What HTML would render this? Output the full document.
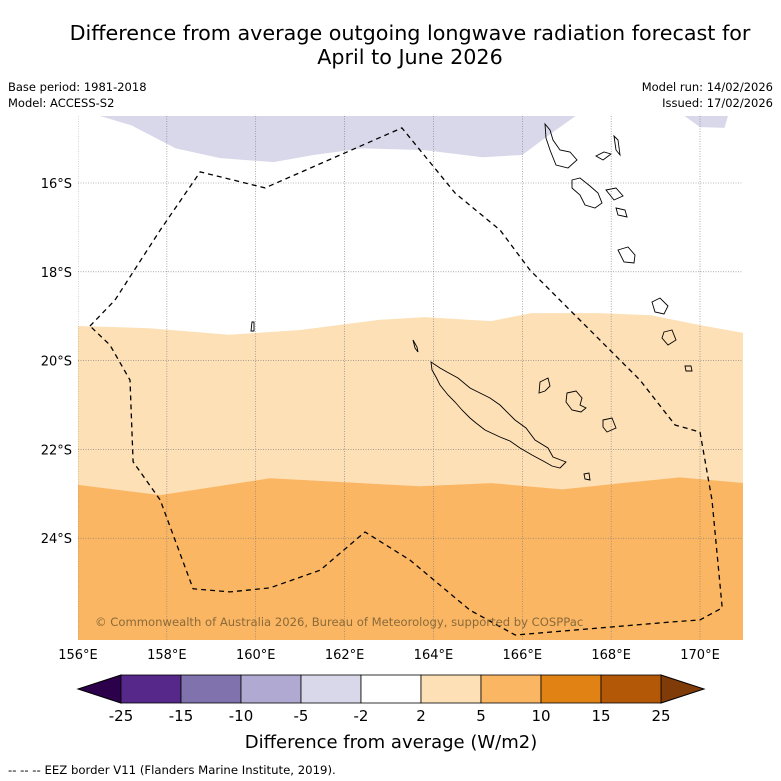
<!DOCTYPE html>
<html><head><meta charset="utf-8"><style>
html,body{margin:0;padding:0;background:#fff;}
svg{display:block;font-family:"DejaVu Sans","Liberation Sans",sans-serif;}
</style></head><body>
<svg id="chart" width="781" height="781" viewBox="0 0 781 781">
<text x="410" y="40" font-size="20.7" text-anchor="middle">Difference from average outgoing longwave radiation forecast for</text>
<text x="410" y="64" font-size="20.7" text-anchor="middle">April to June 2026</text>
<text x="8" y="91" font-size="11.5">Base period: 1981-2018</text>
<text x="8" y="107" font-size="11.5">Model: ACCESS-S2</text>
<text x="773" y="91" font-size="11.5" text-anchor="end">Model run: 14/02/2026</text>
<text x="773" y="107" font-size="11.5" text-anchor="end">Issued: 17/02/2026</text>
<defs><clipPath id="mapclip"><rect x="78" y="116" width="665" height="524"/></clipPath></defs>
<g id="map" clip-path="url(#mapclip)"></g>
<g id="axes"></g>
<text x="95" y="626" font-size="11.6" fill="#8a6a3a">© Commonwealth of Australia 2026, Bureau of Meteorology, supported by COSPPac</text>
<g id="colorbar"></g>
<text x="391" y="748" font-size="18" text-anchor="middle">Difference from average (W/m2)</text>
<text x="8" y="774" font-size="11.7">--  --  -- EEZ border V11 (Flanders Marine Institute, 2019).</text>
</svg>
<script>
const lonTicks=[156,158,160,162,164,166,168,170];
const latTicks=[-16,-18,-20,-22,-24];
const cbBounds=[-25,-15,-10,-5,-2,2,5,10,15,25];
const cbColors=["#55288a","#7f72ad","#b0a9d1","#d8d8ea","#ffffff","#fde0b6","#fbb663","#e08214","#b35806"];
// contour lines (lon, lat)
const purpleLon=[156.5,157.2,158.2,159.2,160.4,161.3,162.4,163.8,165.1,166.0,166.6,167.2];
const purpleLat=[-14.49,-14.7,-15.22,-15.44,-15.53,-15.37,-15.22,-15.26,-15.42,-15.37,-14.92,-14.49];
const purple2Lon=[169.65,170.0,170.55,170.63];
const purple2Lat=[-14.49,-14.74,-14.76,-14.49];
const lightOrLon=[156,157.6,159.4,161.0,162.8,163.8,165.3,166.2,167.75,168.9,170.0,171];
const lightOrLat=[-19.22,-19.27,-19.42,-19.31,-19.08,-19.02,-19.11,-18.93,-18.93,-18.98,-19.2,-19.38];
const orLon=[156,157.85,160.32,163.7,165.3,166.9,168.43,169.55,171];
const orLat=[-22.8,-23.03,-22.65,-22.83,-22.76,-22.9,-22.74,-22.63,-22.76];
const eezLon=[156.27,156.83,157.85,158.75,160.21,161.9,163.29,164.49,165.5,166.17,167.07,167.75,168.65,169.44,170.0,170.27,170.5,170.0,169.32,167.75,165.84,164.82,163.47,162.46,161.45,160.32,159.42,158.59,157.85,157.24,157.17,156.72,156.27];
const eezLat=[-19.22,-18.64,-17.06,-15.75,-16.11,-15.37,-14.76,-16.23,-17.06,-17.96,-18.86,-19.54,-20.44,-21.45,-21.61,-23.14,-25.57,-25.84,-25.89,-26.02,-26.18,-25.62,-24.49,-23.86,-24.72,-25.12,-25.21,-25.14,-23.14,-22.28,-20.44,-19.65,-19.22];
const X=lon=>78+(lon-156)*44.43;
const Y=lat=>183+(-16-lat)*44.4;
const NS="http://www.w3.org/2000/svg";
function mk(tag,attrs,parent){const e=document.createElementNS(NS,tag);for(const k in attrs)e.setAttribute(k,attrs[k]);parent.appendChild(e);return e;}
const map=document.getElementById('map');
function line(lons,lats){return lons.map((l,i)=>X(l).toFixed(1)+","+Y(lats[i]).toFixed(1)).join(" ");}
let p=mk('polygon',{points:"78,116 "+line(purpleLon,purpleLat),fill:"#d8d8ea"},map);


p=mk('polygon',{points:line(purple2Lon,purple2Lat),fill:"#d8d8ea"},map);


p=mk('polygon',{points:line(lightOrLon,lightOrLat)+" 743,640 78,640",fill:"#fde0b6"},map);


p=mk('polygon',{points:line(orLon,orLat)+" 743,640 78,640",fill:"#fbb663"},map);


lonTicks.forEach(l=>{const g=mk('line',{x1:X(l),x2:X(l),y1:116,y2:640,stroke:"#777","stroke-width":0.6,"stroke-dasharray":"1,1.5"},map);

});
latTicks.forEach(l=>{const g=mk('line',{x1:78,x2:743,y1:Y(l),y2:Y(l),stroke:"#777","stroke-width":0.6,"stroke-dasharray":"1,1.5"},map);

});
const islands=["M431,362 L440,368 L447,372 L458,378 L470,388 L480,393 L490,398 L500,405 L515,420 L526,428 L535,440 L548,448 L553,457 L566,462 L560,468 L552,466 L545,462 L532,455 L520,448 L510,441 L500,437 L485,430 L476,423 L470,418 L462,410 L455,402 L448,395 L440,385 L436,377 L432,370 Z",
"M413,340 L417,347 L418,352 L415,348 Z","M540,382 L548,378 L550,386 L545,391 L539,393 Z","M567,393 L576,391 L582,398 L580,405 L586,408 L581,412 L572,410 L566,402 Z",
"M603,420 L612,418 L616,428 L607,432 L603,427 Z","M584,474 L589,473 L590,480 L585,479 Z",
"M545,124 L550,130 L553,140 L560,150 L570,152 L577,160 L568,168 L556,165 L550,150 L546,138 Z",
"M596,156 L604,152 L611,154 L603,160 Z","M614,136 L618,140 L620,155 L616,150 Z","M572,180 L580,178 L590,186 L598,193 L602,203 L595,208 L585,205 L580,195 L572,188 Z",
"M606,190 L616,188 L623,196 L614,200 Z","M616,208 L625,210 L627,217 L618,215 Z","M618,250 L628,247 L635,255 L634,263 L624,262 Z",
"M652,302 L660,298 L668,306 L664,314 L655,312 Z","M664,332 L672,330 L676,340 L668,345 L662,338 Z","M685,366 L691,366 L692,371 L686,371 Z",
"M252,322 L254,322 L254,331 L251,331 Z"];
islands.forEach(d=>{const e=mk('path',{d:d,fill:"none",stroke:"#000","stroke-width":0.9},map);

});
const eez=mk('polyline',{points:line(eezLon,eezLat),fill:"none",stroke:"#000","stroke-width":1.3,"stroke-dasharray":"5,4"},map);


const axes=document.getElementById('axes');
lonTicks.forEach(l=>{const t=mk('text',{x:X(l),y:659,"font-size":13,"text-anchor":"middle"},axes);t.textContent=l+"°E";

});
latTicks.forEach(l=>{const t=mk('text',{x:72,y:Y(l)+5,"font-size":13,"text-anchor":"end"},axes);t.textContent=(-l)+"°S";

});
const cb=document.getElementById('colorbar');
const cbX=v=>121+cbBounds.indexOf(v)*60;
let tri=mk('polygon',{points:"121,675 78,689 121,703",fill:"#2d004b",stroke:"#000","stroke-width":1},cb);


tri=mk('polygon',{points:"661,675 704,689 661,703",fill:"#7f3b08",stroke:"#000","stroke-width":1},cb);


cbColors.forEach((c,i)=>{const r=mk('rect',{x:cbX(cbBounds[i]),y:675,width:cbX(cbBounds[i+1])-cbX(cbBounds[i]),height:28,fill:c,stroke:"#000","stroke-width":0.8},cb);

});
cbBounds.forEach(v=>{const t=mk('text',{x:cbX(v),y:721,"font-size":15,"text-anchor":"middle"},cb);t.textContent=v;

});
</script>
</body></html>
